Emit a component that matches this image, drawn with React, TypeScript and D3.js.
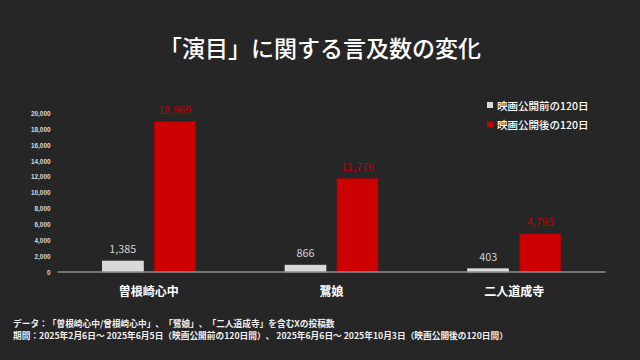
import React from "react";
import * as d3 from "d3";

const categories = ["曽根崎心中", "鷺娘", "二人道成寺"];
const seriesNames = ["映画公開前の120日", "映画公開後の120日"];
const beforeValues = [1385, 866, 403];
const afterValues = [18969, 11776, 4795];
const yTicks = [0, 2000, 4000, 6000, 8000, 10000, 12000, 14000, 16000, 18000, 20000];
const title = "「演目」に関する言及数の変化";
const footnotes = [
  "データ：「曽根崎心中/曾根崎心中」、「鷺娘」、「二人道成寺」を含むXの投稿数",
  "期間：2025年2月6日～ 2025年6月5日（映画公開前の120日間）、 2025年6月6日～ 2025年10月3日（映画公開後の120日間）",
];

const W = 640;
const H = 360;
const BG = "#262626";
const GRAY = "#d9d9d9";
const RED = "#cc0000";
const FONT = "'Noto Sans CJK JP', 'Noto Sans', sans-serif";

export default function App() {
  const x0 = d3.scaleBand<string>().domain(categories).range([57.5, 605.5]).paddingInner(0).paddingOuter(0);
  const groupW = 93;
  const x1 = d3.scaleBand<string>().domain(seriesNames).range([0, groupW]).paddingInner(2 - groupW / 52).paddingOuter(0);
  const y = d3.scaleLinear().domain([0, 20000]).range([272, 113.5]);
  const fmt = d3.format(",");
  const colors = [GRAY, RED];
  const labelColors = ["#d0d0d0", "#c00000"];
  const seriesValues = [beforeValues, afterValues];

  return (
    <svg width={W} height={H} style={{ display: "block", position: "absolute", left: 0, top: 0 }} fontFamily={FONT}>
      <style>{`text { text-spacing-trim: space-all; font-kerning: none; }`}</style>
      <rect x={0} y={0} width={W} height={H} fill={BG} />
      <text x={320} y={47} textAnchor="middle" dominantBaseline="central" fill="#ffffff" fontSize={23} fontWeight={500}>
        {title}
      </text>

      {yTicks.map((t) => (
        <text key={t} x={50.5} y={y(t)} textAnchor="end" dominantBaseline="central" fill="#d9d9d9" fontSize={6.4} fontWeight={700} fontFamily="'Liberation Sans', Arial, sans-serif">
          {fmt(t)}
        </text>
      ))}

      {categories.map((c, ci) => {
        const gx = (x0(c) as number) + (x0.bandwidth() - groupW) / 2;
        return (
          <g key={c}>
            {seriesNames.map((s, si) => {
              const v = seriesValues[si][ci];
              const bx = gx + (x1(s) as number);
              const by = y(v);
              return (
                <g key={s}>
                  <rect
                    x={bx}
                    y={by}
                    width={x1.bandwidth()}
                    height={y(0) - by}
                    fill={colors[si]}
                    stroke={si === 0 ? "#efefef" : "#b00000"}
                    strokeWidth={0.6}
                  />
                  <text x={bx + x1.bandwidth() / 2} y={by - 8} textAnchor="middle" fill={labelColors[si]} fontSize={10.8}>
                    {fmt(v)}
                  </text>
                </g>
              );
            })}
            <text x={(x0(c) as number) + x0.bandwidth() / 2} y={290} textAnchor="middle" dominantBaseline="central" fill="#ffffff" fontSize={12} fontWeight={700}>
              {c}
            </text>
          </g>
        );
      })}

      <line x1={57.5} x2={605.5} y1={y(0)} y2={y(0)} stroke="#8c8c8c" strokeWidth={1.5} />

      {seriesNames.map((s, si) => (
        <g key={s} transform={`translate(487, ${105 + si * 19.5})`}>
          <rect x={0} y={-3} width={6} height={6} fill={colors[si]} />
          <text x={10} y={0} dominantBaseline="central" fill="#ffffff" fontSize={10.5} fontWeight={500}>
            {s}
          </text>
        </g>
      ))}

      {footnotes.map((f, i) => (
        <text key={i} x={13} y={323 + i * 12} dominantBaseline="central" fill="#f0f0f0" fontSize={8.7} fontWeight={700}>
          {f}
        </text>
      ))}
    </svg>
  );
}
